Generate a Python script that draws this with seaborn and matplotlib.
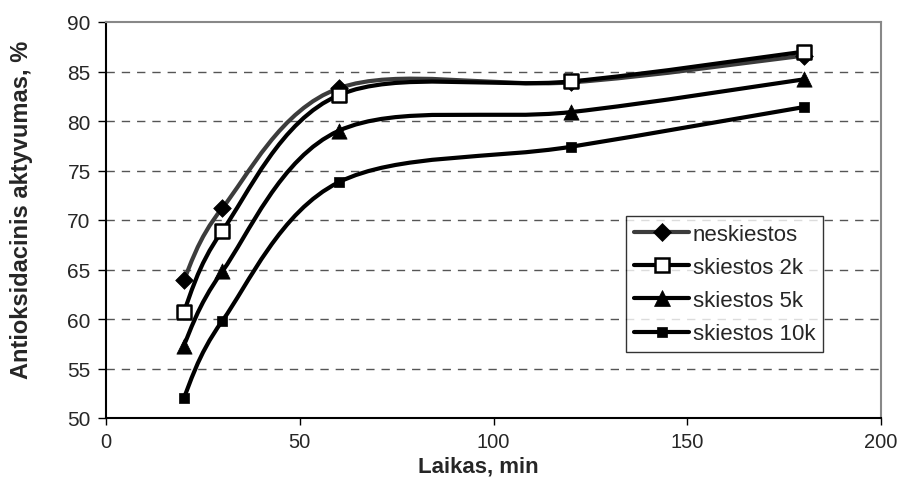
import numpy as np
import pandas as pd
import matplotlib
matplotlib.use("Agg")
import matplotlib.pyplot as plt
from matplotlib.path import Path
from matplotlib.patches import PathPatch
from matplotlib.lines import Line2D
import seaborn as sns

time_min = [20, 30, 60, 120, 180]
neskiestos = [63.9, 71.2, 83.3, 83.9, 86.6]
skiestos_2k = [60.7, 68.9, 82.6, 84.0, 87.0]
skiestos_5k = [57.3, 64.8, 79.0, 80.9, 84.2]
skiestos_10k = [52.0, 59.8, 73.8, 77.4, 81.4]
series_names = ["neskiestos", "skiestos 2k", "skiestos 5k", "skiestos 10k"]

sns.set_style("white")
plt.rcParams['font.family'] = ['Liberation Sans', 'DejaVu Sans']

fig = plt.figure(figsize=(9, 4.81), dpi=100)
ax = fig.add_axes([106/900, 1 - 419/481, (881-106)/900, (419-23)/481])

styles = [
    dict(line="#3c3c3c", marker="D", ms=9, mfc="black", zl=3),
    dict(line="black", marker="s", ms=10, mfc="white", zl=4),
    dict(line="black", marker="^", ms=11, mfc="black", zl=3),
    dict(line="black", marker="s", ms=7, mfc="black", zl=3),
]
all_y = [neskiestos, skiestos_2k, skiestos_5k, skiestos_10k]


def smooth_path(xs, ys):
    pts = np.column_stack([xs, ys]).astype(float)
    n = len(pts)
    verts = [pts[0]]
    codes = [Path.MOVETO]
    for i in range(n - 1):
        p0 = pts[max(i - 1, 0)]
        p1 = pts[i]
        p2 = pts[i + 1]
        p3 = pts[min(i + 2, n - 1)]
        c1 = p1 + (p2 - p0) / 6.0
        c2 = p2 - (p3 - p1) / 6.0
        verts += [c1, c2, p2]
        codes += [Path.CURVE4] * 3
    return Path(verts, codes)


handles = []
for name, ys, st in zip(series_names, all_y, styles):
    patch = PathPatch(smooth_path(time_min, ys), facecolor="none",
                      edgecolor=st["line"], lw=3, zorder=st["zl"],
                      transform=ax.transData, capstyle="round", joinstyle="round")
    ax.add_patch(patch)
    df = pd.DataFrame({"x": time_min, "y": ys})
    sns.scatterplot(data=df, x="x", y="y", ax=ax, marker=st["marker"],
                    s=st["ms"] ** 2, color=st["mfc"], edgecolor="black",
                    linewidth=1.8 if st["mfc"] == "white" else 0.5,
                    zorder=st["zl"] + 2, legend=False)
    handles.append(Line2D([], [], color=st["line"], lw=3, marker=st["marker"],
                          markersize=st["ms"], markerfacecolor=st["mfc"],
                          markeredgecolor="black",
                          markeredgewidth=1.8 if st["mfc"] == "white" else 0.5,
                          solid_capstyle="round", label=name))

ax.set_xlim(0, 200)
ax.set_ylim(50, 90)
ax.set_xticks([0, 50, 100, 150, 200])
ax.set_yticks([50, 55, 60, 65, 70, 75, 80, 85, 90])
for yv in [55, 60, 65, 70, 75, 80, 85]:
    ax.axhline(yv, color="#555555", lw=1, linestyle=(0, (6, 5)), zorder=1)

ax.tick_params(axis="both", labelsize=15, direction="out",
               width=1, color="black", left=True, bottom=True)
ax.tick_params(axis="y", length=6, pad=5)
ax.tick_params(axis="x", length=5, pad=5, labelsize=14.5)
for s in ["left", "bottom"]:
    ax.spines[s].set_color("black")
    ax.spines[s].set_linewidth(1.5)
for s in ["top", "right"]:
    ax.spines[s].set_color("#888888")
    ax.spines[s].set_linewidth(1.5)

ax.set_xlabel("Laikas, min", fontsize=16, fontweight="bold")
ax.set_ylabel("Antioksidacinis aktyvumas, %", fontsize=17, fontweight="bold")
ax.xaxis.set_label_coords((478-106)/775, (419-456.2)/396)
ax.yaxis.set_label_coords((33-106)/775, (419-210)/396)

leg = ax.legend(handles=handles, loc="upper left",
                bbox_to_anchor=((626-106)/775, (419-217)/396),
                fontsize=16, frameon=True, fancybox=False, handlelength=2.5,
                handletextpad=0.15, borderpad=0.35, labelspacing=0.55,
                borderaxespad=0)
leg.get_frame().set_edgecolor("black")
leg.get_frame().set_linewidth(1)

fig.savefig("out.png", dpi=100)
